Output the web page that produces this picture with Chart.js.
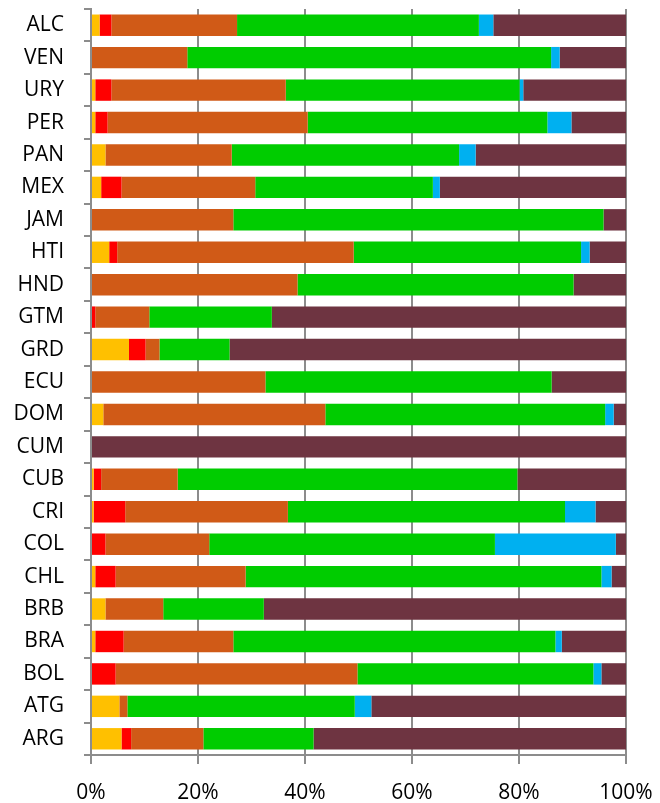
<!DOCTYPE html>
<html>
<head>
<meta charset="utf-8">
<script src="https://cdn.jsdelivr.net/npm/chart.js@4/dist/chart.umd.min.js"></script>
<style>
  html, body { margin: 0; padding: 0; background: #fff; }
  #wrap { width: 660px; height: 803px; position: relative; }
</style>
</head>
<body>
<div id="wrap"><canvas id="chart"></canvas></div>
<script>
const countries = ['ALC', 'VEN', 'URY', 'PER', 'PAN', 'MEX', 'JAM', 'HTI', 'HND', 'GTM', 'GRD', 'ECU',
  'DOM', 'CUM', 'CUB', 'CRI', 'COL', 'CHL', 'BRB', 'BRA', 'BOL', 'ATG', 'ARG'];

// shares in percent, one array per segment, same order as countries
const yellowVals = [1.6, 0, 0.8, 0.8, 2.7, 1.9, 0, 3.4, 0, 0, 7.1, 0, 2.3, 0, 0.5, 0.5, 0, 0.8, 2.7, 0.8, 0, 5.3, 5.7];
const redVals    = [2.2, 0, 3.0, 2.3, 0, 3.8, 0, 1.5, 0, 0.8, 3.1, 0, 0, 0, 1.4, 5.9, 2.7, 3.8, 0, 5.3, 4.6, 0, 1.8];
const orangeVals = [23.5, 18.0, 32.6, 37.4, 23.6, 25.0, 26.6, 44.2, 38.6, 10.1, 2.6, 32.6, 41.5, 0, 14.3, 30.4, 19.4, 24.3, 10.8, 20.5, 45.2, 1.5, 13.5];
const greenVals  = [45.2, 68.0, 43.7, 44.8, 42.5, 33.2, 69.2, 42.5, 51.6, 22.9, 13.1, 53.5, 52.3, 0, 63.5, 51.8, 53.4, 66.5, 18.8, 60.2, 44.1, 42.5, 20.6];
const blueVals   = [2.7, 1.6, 0.7, 4.5, 3.1, 1.3, 0, 1.6, 0, 0, 0, 0, 1.6, 0, 0, 5.7, 22.6, 1.9, 0, 1.2, 1.5, 3.1, 0];
const maroonVals = [24.8, 12.4, 19.2, 10.2, 28.1, 34.8, 4.2, 6.8, 9.8, 66.2, 74.1, 13.9, 2.3, 100, 20.3, 5.7, 1.9, 2.7, 67.7, 12.0, 4.6, 47.6, 58.4];

const xTicks = [0, 20, 40, 60, 80, 100];

const font = "'Open Sans', 'Liberation Sans', sans-serif";
const axisGray = '#8C8C8C';

function ds(data, color) {
  return { data: data, backgroundColor: color, borderWidth: 0, barPercentage: 0.66, categoryPercentage: 1 };
}

new Chart(document.getElementById('chart'), {
  type: 'bar',
  data: {
    labels: countries,
    datasets: [
      ds(yellowVals, '#FFC000'),
      ds(redVals, '#FF0000'),
      ds(orangeVals, '#D05A17'),
      ds(greenVals, '#00CC00'),
      ds(blueVals, '#00B0F0'),
      ds(maroonVals, '#6E3441')
    ]
  },
  options: {
    indexAxis: 'y',
    responsive: true,
    maintainAspectRatio: false,
    animation: false,
    layout: { padding: { top: 9, right: 34, left: 0, bottom: 0 } },
    plugins: { legend: { display: false }, tooltip: { enabled: false } },
    scales: {
      x: {
        stacked: true,
        min: 0,
        max: 100,
        afterBuildTicks: (axis) => { axis.ticks = xTicks.map(v => ({ value: v })); },
        afterFit: (axis) => {
          axis.height = 48;
          axis.paddingLeft = 0;
          axis.paddingRight = 0;
        },
        border: { display: true, color: axisGray, width: 2 },
        grid: { color: axisGray, lineWidth: 2, tickLength: 9, drawTicks: true },
        ticks: {
          color: '#000',
          padding: 16,
          font: { family: font, size: 21 },
          callback: (v) => v + '%'
        }
      },
      y: {
        stacked: true,
        afterFit: (axis) => {
          axis.width = 91;
          axis.paddingTop = 0;
          axis.paddingBottom = 0;
        },
        border: { display: true, color: axisGray, width: 2 },
        grid: { drawOnChartArea: false, color: axisGray, lineWidth: 2, tickLength: 7, offset: true },
        ticks: {
          color: '#000',
          padding: 20,
          font: { family: font, size: 21 }
        }
      }
    }
  }
});
</script>
</body>
</html>
